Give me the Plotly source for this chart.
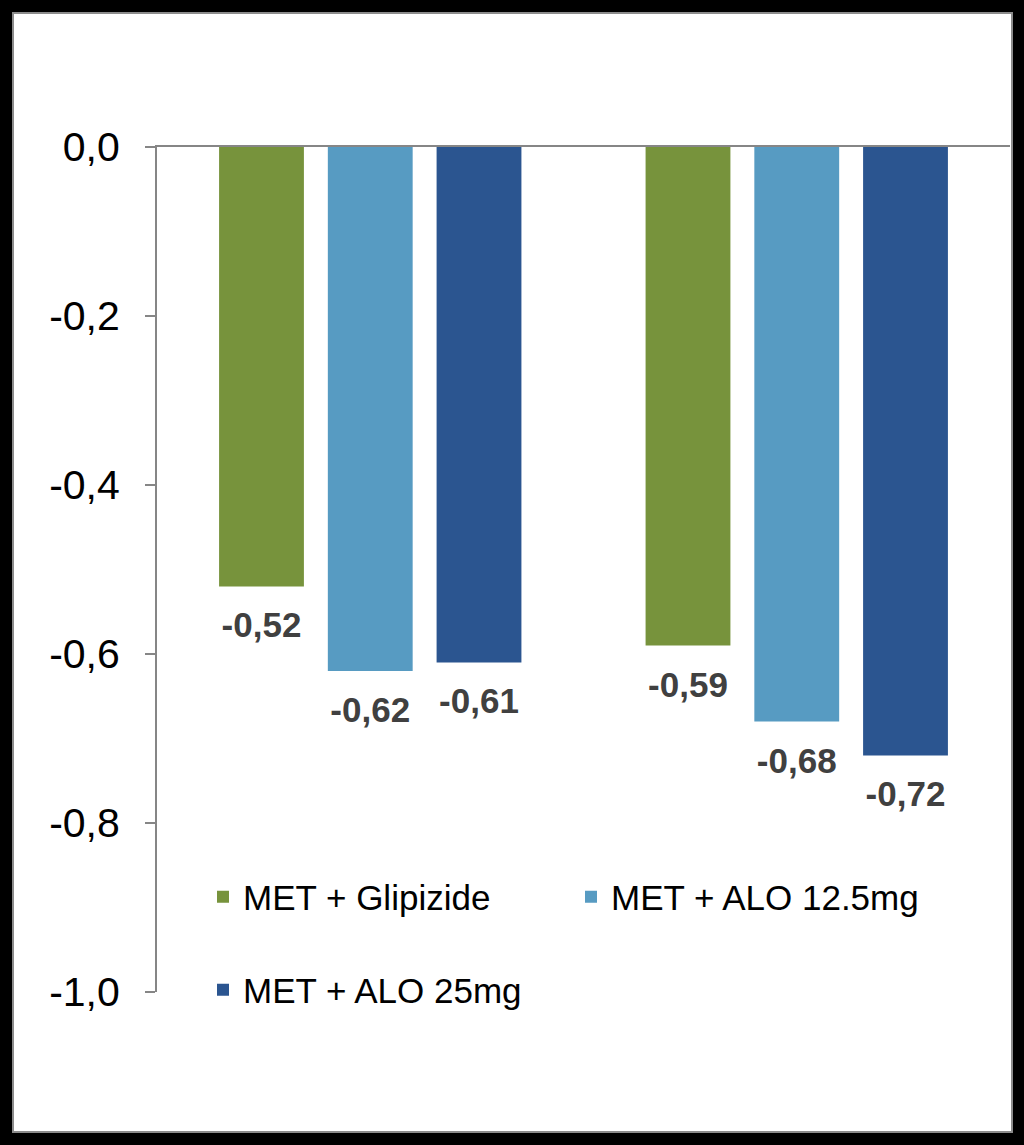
import plotly.graph_objects as go

categories = ["Group 1", "Group 2"]
series_names = ["MET + Glipizide", "MET + ALO 12.5mg", "MET + ALO 25mg"]
glipizide = [-0.52, -0.59]
alo_12_5 = [-0.62, -0.68]
alo_25 = [-0.61, -0.72]
tick_vals = [0.0, -0.2, -0.4, -0.6, -0.8, -1.0]
tick_text = ["0,0", "-0,2", "-0,4", "-0,6", "-0,8", "-1,0"]

colors = ["#77933C", "#579BC2", "#2B5590"]
legends = ["legend", "legend", "legend2"]
FONT = "Liberation Sans, Arial, sans-serif"


def fmt(v):
    return f"{v:.2f}".replace(".", ",")


fig = go.Figure()
all_vals = [glipizide, alo_12_5, alo_25]
for k, (name, vals, col, lg) in enumerate(zip(series_names, all_vals, colors, legends)):
    fig.add_trace(go.Bar(
        x=categories, y=vals, name=name,
        marker=dict(color=col, line=dict(width=0)),
        legend=lg, offsetgroup=str(k), hoverinfo="skip",
    ))
# value labels, grouped like the bars
for k, vals in enumerate(all_vals):
    fig.add_trace(go.Scatter(
        x=categories, y=vals, mode="markers+text",
        text=[fmt(v) for v in vals], textposition="bottom center",
        textfont=dict(family=FONT, size=35, color="#404040", weight="bold"),
        marker=dict(size=38, color="rgba(0,0,0,0)", line=dict(width=0)),
        showlegend=False, hoverinfo="skip", offsetgroup=str(k), cliponaxis=False,
    ))

L, R, T, B = 157, 14, 147, 153
W, H = 1024, 1145
pw = W - L - R
ph = H - T - B


def px_x(p):
    return (p - L) / pw


def px_y(p):
    return (H - B - p) / ph


fig.add_shape(type="rect", xref="paper", yref="paper",
              x0=px_x(13), x1=px_x(1012), y0=px_y(1132), y1=px_y(13),
              fillcolor="white", line=dict(color="#8c8c8c", width=2), layer="below")

fig.update_layout(
    width=W, height=H,
    margin=dict(l=L, r=R, t=T, b=B),
    paper_bgcolor="black",
    plot_bgcolor="rgba(0,0,0,0)",
    barmode="group",
    bargap=0.235,
    bargroupgap=0.22,
    scattermode="group",
    scattergap=0.235,
    font=dict(family=FONT, color="black"),
    xaxis=dict(side="top", showline=True, linecolor="#868686", linewidth=2,
               showticklabels=False, ticks="", showgrid=False, zeroline=False),
    yaxis=dict(range=[-1.0, 0.0], tickvals=tick_vals, ticktext=tick_text,
               showline=True, linecolor="#868686", linewidth=2,
               ticks="outside", ticklen=10, tickwidth=2, tickcolor="#868686",
               tickfont=dict(size=41, color="black"), ticklabelstandoff=17,
               showgrid=False, zeroline=False),
    legend=dict(orientation="h", x=px_x(203), y=px_y(897), xanchor="left", yanchor="middle",
                font=dict(size=35, color="black"), bgcolor="rgba(0,0,0,0)",
                entrywidth=323, entrywidthmode="pixels", traceorder="normal"),
    legend2=dict(orientation="h", x=px_x(203), y=px_y(990), xanchor="left", yanchor="middle",
                 font=dict(size=35, color="black"), bgcolor="rgba(0,0,0,0)"),
    showlegend=True,
)

fig.write_html("out.html", config={"displayModeBar": False},
               post_script="document.body.style.margin='0';document.body.style.overflow='hidden';")
